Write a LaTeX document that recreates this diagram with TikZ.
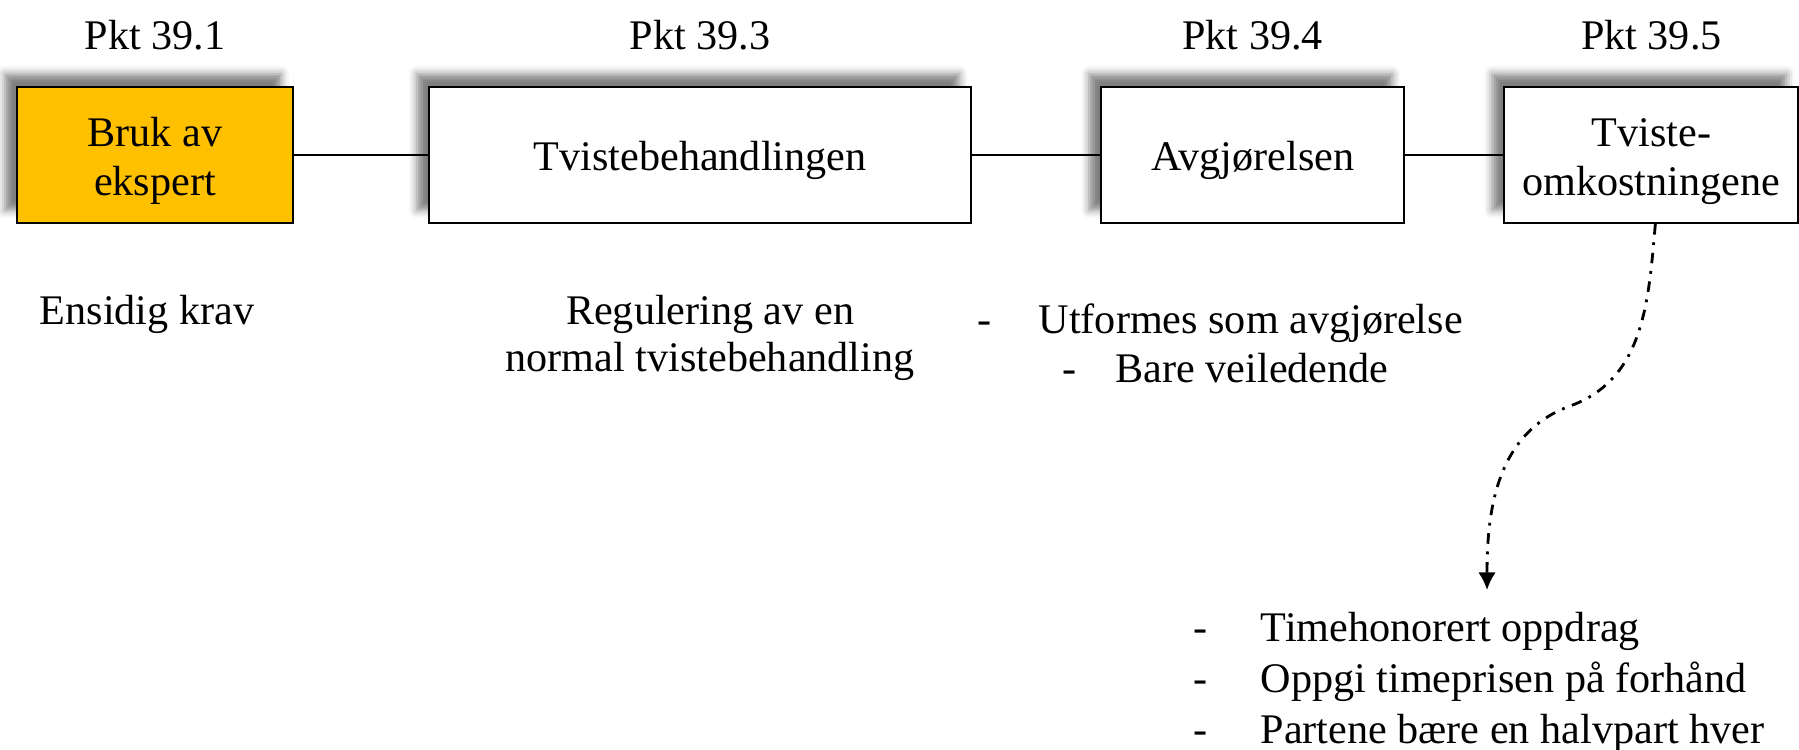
\documentclass[tikz,border=0pt]{standalone}
\usepackage{fontspec}
\setmainfont{Liberation Serif}
\usetikzlibrary{positioning, shadows.blur, arrows.meta}
\definecolor{gold}{RGB}{255,192,0}
\newcommand{\topstrut}{\rule{0pt}{0.41cm}}
\tikzstyle{block} = [draw, rectangle, draw=black, line width=0.6pt, fill=white,
 font=\fontsize{12}{14}\selectfont, align=center, text centered,
 minimum height=1.36cm, inner sep=0pt,
 blur shadow={shadow xshift=-0.12cm, shadow yshift=0.13cm, shadow blur radius=0.08cm, shadow opacity=50}]
\tikzstyle{note} = [font=\fontsize{12}{13.4}\selectfont, align=center, inner sep=0pt]
\tikzstyle{item} = [font=\fontsize{12}{14}\selectfont, anchor=base west, inner sep=0pt]
\tikzstyle{line} = [line width=0.6pt,-]
\tikzstyle{arrow} = [line width=0.8pt, -{Latex[length=5pt,width=5pt]},
 dash pattern=on 3pt off 2.2pt on 0.8pt off 2.2pt]

\begin{document}
\begin{tikzpicture}
	\useasboundingbox (0,0) rectangle (17.99,-7.49);
	
	\node [block, fill=gold, minimum width=2.76cm] (b1) at (1.55,-1.55) {\topstrut Bruk av\\ekspert};
	\node [block, minimum width=5.42cm, right=1.34cm of b1] (b2) {\topstrut Tvistebehandlingen};
	\node [block, minimum width=3.03cm, right=1.28cm of b2] (b3) {\topstrut Avgjørelsen};
	\node [block, minimum width=2.94cm, right=0.98cm of b3] (b4) {\topstrut Tviste-\\omkostningene};
	
	\draw [line] (b1) -- (b2);
	\draw [line] (b2) -- (b3);
	\draw [line] (b3) -- (b4);
	
	\node [note, above=0.35cm of b1] (p1) {Pkt 39.1};
	\node [note, above=0.35cm of b2] (p2) {Pkt 39.3};
	\node [note, above=0.35cm of b3] (p3) {Pkt 39.4};
	\node [note, above=0.35cm of b4] (p4) {Pkt 39.5};
	
	\node [note, below=0.70cm of b1, xshift=-0.08cm] (n1) {Ensidig krav};
	\node [note, below=0.70cm of b2, xshift=0.1cm] (n2) {Regulering av en\\normal tvistebehandling};
	
	\node [item] (a1) at (9.77,-3.33) {\makebox[0.61cm][l]{-}Utformes som avgjørelse};
	\node [item] (a2) at (10.62,-3.82) {\makebox[0.53cm][l]{-}Bare veiledende};
	
	\node [item] (k1) at (11.93,-6.41) {\makebox[0.67cm][l]{-}Timehonorert oppdrag};
	\node [item] (k2) at (11.93,-6.92) {\makebox[0.67cm][l]{-}Oppgi timeprisen på forhånd};
	\node [item] (k3) at (11.93,-7.43) {\makebox[0.67cm][l]{-}Partene bære en halvpart hver};
	
	\coordinate (bend) at (15.70,-4.06);
	\coordinate (tip) at (14.87,-5.90);
	\draw [arrow] ([xshift=0.04cm]b4.south) to[out=-95, in=20] (bend) to[out=200, in=90] (tip);
	
\end{tikzpicture}
\end{document}
